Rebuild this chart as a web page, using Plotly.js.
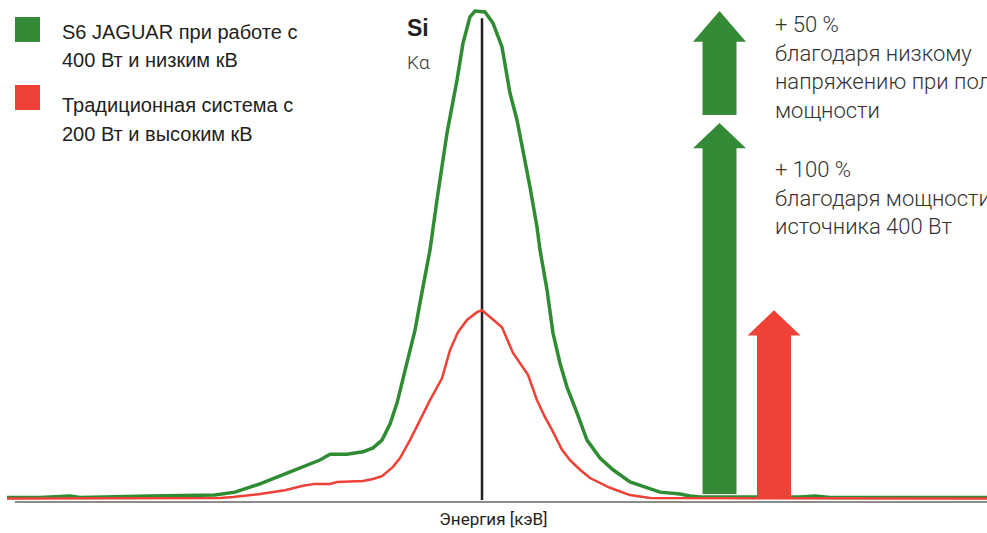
<!DOCTYPE html>
<html>
<head>
<meta charset="utf-8">
<script src="https://cdn.plot.ly/plotly-3.0.1.min.js"></script>
<style>html,body{margin:0;padding:0;background:#fff;}#chart{width:987px;height:533px;}</style>
</head>
<body>
<div id="chart"></div>
<script>
// Channel positions (arbitrary energy channel units) and relative intensities (green peak = 100)
const greenX = [7,40,70,80,150,200,215,235,260,287,300,313,320,330,347,363,373,382,390,397,403,410,415,420,425,430,437,447,457,463,470,475,485,493,502,510,517,523,530,537,540,547,553,560,567,577,587,600,613,630,647,660,680,690,700,800,815,830,987];
const greenY = [0,0,0.3,0,0.3,0.4,0.5,1.1,2.8,5.0,6.1,7.3,7.7,8.9,8.9,9.4,10.2,11.8,15.1,19.4,24.2,29.7,34.4,40.0,45.3,50.9,61.2,74.9,85.8,93.4,98.8,100,99.8,97.5,92.6,83.1,77.6,71.4,63.8,55.6,50.9,42.7,33.8,27.6,22.7,17.4,11.8,8.1,5.7,3.2,2.0,1.1,0.7,0.3,0.1,0.1,0.3,0,0];
const redX = [7,220,233,260,285,303,315,330,337,363,373,382,393,400,410,420,430,442,450,458,467,477,482,490,502,513,520,528,537,545,552,562,570,580,590,610,630,650,987];
const redY = [-0.2,-0.1,0.1,0.7,1.5,2.4,2.8,2.8,3.2,3.4,3.8,4.4,6.3,8.1,11.8,15.9,20.0,24.5,30.3,34.0,36.5,38.1,38.5,37.1,35.0,29.7,27.6,25.2,20.0,16.5,13.9,9.8,7.7,5.7,4.0,2.0,0.5,-0.1,-0.2];
const peakLineX = 482;   // Si Kα line position
const seriesNames = [["S6 JAGUAR при работе с", "400 Вт и низким кВ"], ["Традиционная система с", "200 Вт и высоким кВ"]];
const gainTexts = ["+ 50 %<br>благодаря низкому<br>напряжению при полной<br>мощности", "+ 100 %<br>благодаря мощности<br>источника 400 Вт"];
const xTitle = "Энергия [кэВ]";

const GREEN = "#2f8c33", RED = "#ef4136", ARROW_G = "#348a36", DARK = "#231f20";
const greenPeak = Math.max(...greenY);
const redPeak = Math.max(...redY);
const doubled = 2 * redPeak;

function arrow(cx, bottom, tip, headH, shaftHalf, headHalf, color) {
  const hb = tip - headH;
  return {
    type: "path", xref: "x", yref: "y", line: {width: 0}, fillcolor: color, layer: "above",
    path: `M${cx - shaftHalf},${bottom} L${cx - shaftHalf},${hb} L${cx - headHalf},${hb} L${cx},${tip} L${cx + headHalf},${hb} L${cx + shaftHalf},${hb} L${cx + shaftHalf},${bottom} Z`
  };
}

const traces = [
  {x: greenX, y: greenY, type: "scatter", mode: "lines", name: "S6 JAGUAR", line: {color: GREEN, width: 3.5}, hoverinfo: "skip"},
  {x: redX, y: redY, type: "scatter", mode: "lines", name: "Традиционная система", line: {color: RED, width: 2.5}, hoverinfo: "skip"}
];

const shapes = [
  {type: "line", xref: "x", yref: "y", x0: peakLineX, x1: peakLineX, y0: -0.5, y1: 98.5, line: {color: DARK, width: 2.5}, layer: "below"},
  {type: "line", xref: "paper", yref: "paper", x0: 15/987, x1: 1, y0: 0.002, y1: 0.002, line: {color: "#666", width: 1.5}},
  {type: "rect", xref: "paper", yref: "paper", x0: 15/987, x1: 40/987, y0: 1 - 17/503, y1: 1 - 42/503, fillcolor: ARROW_G, line: {width: 0}},
  {type: "rect", xref: "paper", yref: "paper", x0: 15/987, x1: 40/987, y0: 1 - 85/503, y1: 1 - 110/503, fillcolor: RED, line: {width: 0}},
  arrow(719.5, 78.6, greenPeak, 6.3, 17, 26.5, ARROW_G),
  arrow(719.5, 0.7, doubled, 5.2, 17, 26.5, ARROW_G),
  arrow(774, 0.1, redPeak, 5.2, 17, 26.5, RED)
];

const legFont = {family: "Liberation Sans Narrow, Arial Narrow, sans-serif", size: 20, color: DARK};
const gainFont = {family: "Roboto, sans-serif", size: 22, color: "#333", weight: 300};

const legendLineY = [[32, 60], [105, 134]];
const annotations = [];
seriesNames.forEach((lines, i) => lines.forEach((t, j) => annotations.push(
  {xref: "paper", yref: "paper", x: 60/987, y: 1 - legendLineY[i][j]/503, xanchor: "left", yanchor: "middle", align: "left", showarrow: false, text: t, font: legFont})));
annotations.push(
  {xref: "paper", yref: "paper", x: 773/987, y: 1 - 10/503, xanchor: "left", yanchor: "top", align: "left", showarrow: false, text: gainTexts[0], font: gainFont},
  {xref: "paper", yref: "paper", x: 773/987, y: 1 - 155/503, xanchor: "left", yanchor: "top", align: "left", showarrow: false, text: gainTexts[1], font: gainFont},
  {xref: "x", yref: "paper", x: 418, y: 1 - 28/503, xanchor: "center", yanchor: "middle", showarrow: false, text: "<b>Si</b>", font: {family: "Liberation Sans, Arial, sans-serif", size: 23, color: DARK}},
  {xref: "x", yref: "paper", x: 418, y: 1 - 62/503, xanchor: "center", yanchor: "middle", showarrow: false, text: "Kα", font: {family: "Roboto, sans-serif", size: 19, color: "#333", weight: 300}}
);

const layout = {
  width: 987, height: 533,
  margin: {l: 0, r: 0, t: 0, b: 30, pad: 0},
  paper_bgcolor: "#fff", plot_bgcolor: "#fff",
  showlegend: false,
  xaxis: {range: [0, 987], showgrid: false, zeroline: false, showline: false, showticklabels: false, ticks: "",
          title: {text: xTitle, font: {family: "Roboto, sans-serif", size: 17, color: DARK}, standoff: 10}},
  yaxis: {range: [-1.13, 102.26], showgrid: false, zeroline: false, showline: false, showticklabels: false, ticks: ""},
  shapes: shapes,
  annotations: annotations
};

Plotly.newPlot("chart", traces, layout, {staticPlot: true, displayModeBar: false});
</script>
</body>
</html>
